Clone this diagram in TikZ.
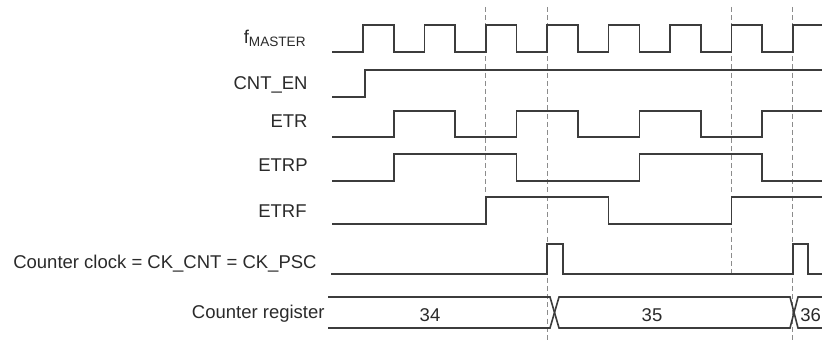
\documentclass[tikz,border=0pt]{standalone}
\usepackage{fontspec}
\setsansfont{Liberation Sans}
\usetikzlibrary{positioning}
\definecolor{cwave}{HTML}{3C3C3C}
\definecolor{cguide}{HTML}{8C8C8C}
\definecolor{ctext}{HTML}{2A2A2A}
\tikzset{
  every picture/.style={font=\sffamily\fontsize{9.25}{11}\selectfont},
  wave/.style={draw=cwave, line width=0.8pt, line join=miter},
  guide/.style={draw=cguide, line width=0.45pt, dash pattern=on 2.5pt off 1.6pt},
  sig/.style={anchor=base east, inner sep=0pt, text=ctext},
  val/.style={anchor=base, inner sep=0pt, text=ctext},
}
\begin{document}
\begin{tikzpicture}[x=0.5pt, y=-0.5pt]
  \useasboundingbox (0,0) rectangle (822,341);
  % signal names
  \node[sig] (fm)   at (306,44)  {f\raisebox{-1.5pt}{\fontsize{6.8}{7}\selectfont MASTER}};
  \node[sig] (en)   at (308,90)  {CNT\_EN};
  \node[sig] (etr)  at (308,128) {ETR};
  \node[sig] (etrp) at (308,172) {ETRP};
  \node[sig] (etrf) at (307,218) {ETRF};
  \node[sig] (ck)   at (317,269) {Counter clock = CK\_CNT = CK\_PSC};
  \node[sig] (reg)  at (325,318) {Counter register};
  % guides
  \foreach \x/\y in {485.8/224, 547.2/341, 731.4/273, 792.8/341}
    \draw[guide] (\x,7) -- (\x,\y);
  % waveforms
  \draw[wave] (332,52) foreach \k in {0,...,6} { -- ({363+61.4*\k},52) -- ++(0,-27) -- ++(30.7,0) -- ++(0,27) } -- (792.8,52) |- (822,25);
  \draw[wave] (332,97) -| (365,70) -- (822,70);
  \draw[wave] (332,137) -| (393.7,111) -| (455.1,137) -| (516.5,111) -| (577.9,137) -| (639.3,111) -| (700.7,137) -| (762.1,111) -- (822,111);
  \draw[wave] (332,181) -| (393.7,154) -| (516.5,181) -| (639.3,154) -| (762.1,181) -- (822,181);
  \draw[wave] (332,224) -| (485.8,197) -| (608.6,224) -| (731.4,197) -- (822,197);
  \draw[wave] (331,274) -| (547.2,244) -| (563.2,274) -| (792.8,244) -| (808.2,274) -- (822,274);
  \draw[wave] (328,297) -- (550,297) -- (559,328) -- (790,328) -- (798,297) -- (822,297);
  \draw[wave] (328,328) -- (550,328) -- (559,297) -- (790,297) -- (798,328) -- (822,328);
  % counter values
  \node[val] (v34) at (430,321) {34};
  \node[val] (v35) at (652,321) {35};
  \node[val, anchor=base west] (v36) at (800,321) {36};
\end{tikzpicture}
\end{document}
